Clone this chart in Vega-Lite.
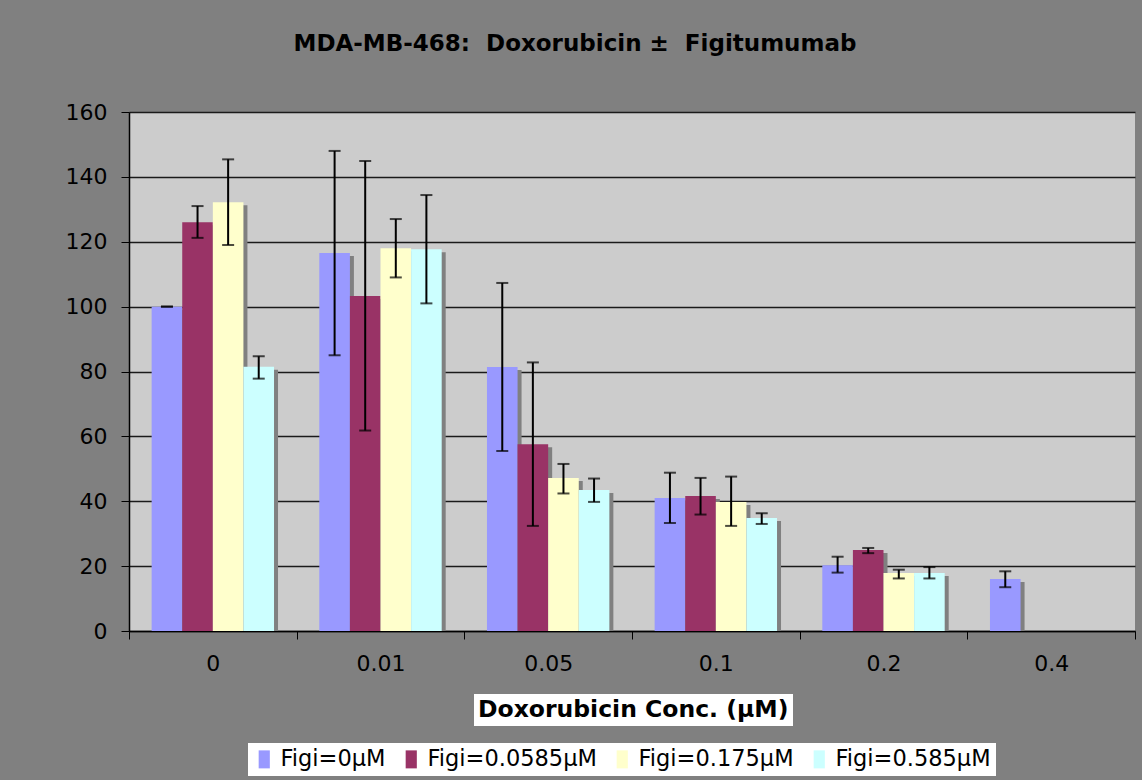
{
  "$schema": "https://vega.github.io/schema/vega-lite/v6.json",
  "width": 1006,
  "height": 519,
  "autosize": {"type": "none"},
  "padding": {"left": 129, "top": 112, "right": 7, "bottom": 149},
  "background": "#808080",
  "config": {
    "view": {"fill": "#cccccc", "stroke": "#808080"},
    "font": "DejaVu Sans"
  },
  "title": {
    "text": "MDA-MB-468: \u00a0Doxorubicin ± \u00a0Figitumumab",
    "fontSize": 23,
    "fontWeight": "bold",
    "color": "#000000",
    "font": "DejaVu Sans",
    "anchor": "middle",
    "dx": -57,
    "offset": 45
  },
  "data": {
    "values": [
      {"dox": "0", "series": "Figi=0µM", "value": 100, "lo": 100, "hi": 100},
      {"dox": "0", "series": "Figi=0.0585µM", "value": 126, "lo": 121.2, "hi": 131},
      {"dox": "0", "series": "Figi=0.175µM", "value": 132.2, "lo": 119, "hi": 145.4},
      {"dox": "0", "series": "Figi=0.585µM", "value": 81.5, "lo": 77.8, "hi": 84.7},
      {"dox": "0.01", "series": "Figi=0µM", "value": 116.5, "lo": 85, "hi": 148},
      {"dox": "0.01", "series": "Figi=0.0585µM", "value": 103.3, "lo": 61.8, "hi": 144.9},
      {"dox": "0.01", "series": "Figi=0.175µM", "value": 118, "lo": 109, "hi": 127},
      {"dox": "0.01", "series": "Figi=0.585µM", "value": 117.7, "lo": 101, "hi": 134.4},
      {"dox": "0.05", "series": "Figi=0µM", "value": 81.4, "lo": 55.5, "hi": 107.3},
      {"dox": "0.05", "series": "Figi=0.0585µM", "value": 57.6, "lo": 32.4, "hi": 82.8},
      {"dox": "0.05", "series": "Figi=0.175µM", "value": 47.2, "lo": 42.4, "hi": 51.5},
      {"dox": "0.05", "series": "Figi=0.585µM", "value": 43.5, "lo": 39.8, "hi": 47},
      {"dox": "0.1", "series": "Figi=0µM", "value": 41, "lo": 33.3, "hi": 48.8},
      {"dox": "0.1", "series": "Figi=0.0585µM", "value": 41.6, "lo": 35.9, "hi": 47.2},
      {"dox": "0.1", "series": "Figi=0.175µM", "value": 39.8, "lo": 32.4, "hi": 47.6},
      {"dox": "0.1", "series": "Figi=0.585µM", "value": 34.8, "lo": 33, "hi": 36.3},
      {"dox": "0.2", "series": "Figi=0µM", "value": 20.3, "lo": 18, "hi": 22.9},
      {"dox": "0.2", "series": "Figi=0.0585µM", "value": 25, "lo": 24, "hi": 25.6},
      {"dox": "0.2", "series": "Figi=0.175µM", "value": 17.9, "lo": 16.2, "hi": 18.9},
      {"dox": "0.2", "series": "Figi=0.585µM", "value": 17.9, "lo": 16.2, "hi": 19.7},
      {"dox": "0.4", "series": "Figi=0µM", "value": 16, "lo": 13.5, "hi": 18.4}
    ]
  },
  "resolve": {"scale": {"xOffset": "independent"}},
  "encoding": {
    "x": {
      "field": "dox",
      "type": "nominal",
      "sort": ["0", "0.01", "0.05", "0.1", "0.2", "0.4"],
      "scale": {"paddingInner": 0, "paddingOuter": 0},
      "axis": {
        "title": null,
        "labelAngle": 0,
        "labelFontSize": 22,
        "labelColor": "#000000",
        "labelPadding": 14,
        "tickBand": "extent",
        "tickSize": 8,
        "tickColor": "#000000",
        "domainColor": "#000000",
        "domainWidth": 1.5
      }
    }
  },
  "layer": [
    {
      "mark": {"type": "bar", "color": "#808080", "yOffset": 3, "clip": true},
      "encoding": {
        "xOffset": {
          "field": "series",
          "type": "nominal",
          "sort": ["Figi=0µM", "Figi=0.0585µM", "Figi=0.175µM", "Figi=0.585µM"],
          "scale": {"paddingInner": 0, "paddingOuter": 0.74, "range": [4, 171.67]}
        },
        "y": {
          "field": "value",
          "type": "quantitative",
          "scale": {"domain": [0, 160], "nice": false},
          "axis": {
            "title": null,
            "values": [0, 20, 40, 60, 80, 100, 120, 140, 160],
            "grid": true,
            "gridColor": "#1a1a1a",
            "gridWidth": 1.4,
            "tickSize": 8,
            "tickColor": "#000000",
            "domainColor": "#000000",
            "domainWidth": 1.5,
            "labelFontSize": 22,
            "labelColor": "#000000",
            "labelPadding": 14
          }
        }
      }
    },
    {
      "encoding": {
        "xOffset": {
          "field": "series",
          "type": "nominal",
          "sort": ["Figi=0µM", "Figi=0.0585µM", "Figi=0.175µM", "Figi=0.585µM"],
          "scale": {"paddingInner": 0, "paddingOuter": 0.74}
        }
      },
      "layer": [
        {
          "mark": {"type": "bar"},
          "encoding": {
            "y": {"field": "value", "type": "quantitative"},
            "color": {
              "field": "series",
              "type": "nominal",
              "scale": {
                "domain": ["Figi=0µM", "Figi=0.0585µM", "Figi=0.175µM", "Figi=0.585µM"],
                "range": ["#9999ff", "#993366", "#ffffcc", "#ccffff"]
              },
              "legend": {
                "title": null,
                "orient": "none",
                "legendX": 119,
                "legendY": 631,
                "direction": "horizontal",
                "fillColor": "#ffffff",
                "padding": 5,
                "labelFont": "DejaVu Sans",
                "labelFontSize": 22.5,
                "labelColor": "#000000",
                "labelLimit": 300,
                "labelOffset": 5,
                "symbolType": "M-0.62,-1H0.62V1H-0.62Z",
                "symbolSize": 324,
                "symbolStrokeWidth": 0,
                "columnPadding": 14
              }
            }
          }
        },
        {
          "mark": {"type": "rule", "color": "#000000", "strokeWidth": 2},
          "encoding": {
            "y": {"field": "lo", "type": "quantitative"},
            "y2": {"field": "hi"},
            "strokeDash": {
              "datum": "axis",
              "scale": {"range": [[1, 0]]},
              "legend": {
                "title": "Doxorubicin Conc. (µM)",
                "orient": "none",
                "legendX": 345,
                "legendY": 582,
                "fillColor": "#ffffff",
                "padding": 4,
                "titleFontSize": 23.5,
                "titleFontWeight": "bold",
                "titleColor": "#000000",
                "titleLimit": 500,
                "titlePadding": 0,
                "values": []
              }
            }
          }
        },
        {
          "mark": {"type": "tick", "color": "#000000", "size": 12, "thickness": 2},
          "encoding": {"y": {"field": "lo", "type": "quantitative"}}
        },
        {
          "mark": {"type": "tick", "color": "#000000", "size": 12, "thickness": 2},
          "encoding": {"y": {"field": "hi", "type": "quantitative"}}
        }
      ]
    }
  ]
}
